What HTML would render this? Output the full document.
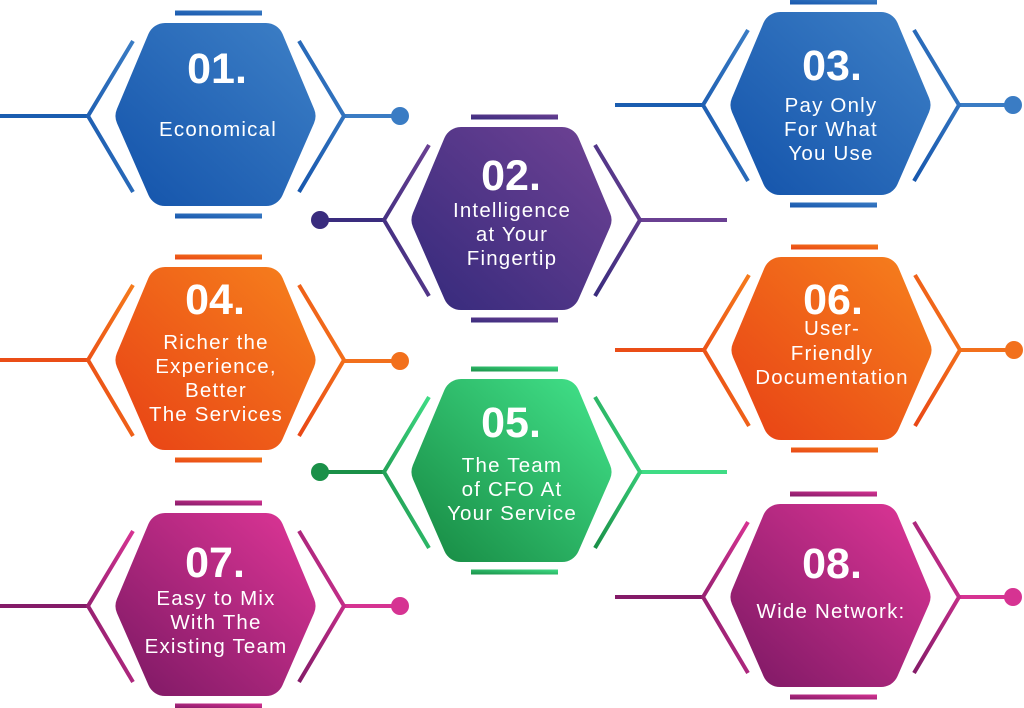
<!DOCTYPE html>
<html><head><meta charset="utf-8"><style>
html,body{margin:0;padding:0;background:#fff;width:1024px;height:708px;overflow:hidden}
text{font-family:"Liberation Sans","DejaVu Sans",sans-serif;fill:#fff;text-anchor:middle}
.n{font-size:43px;font-weight:bold}
.t{font-size:20.5px;letter-spacing:1.2px}
</style></head><body>
<svg width="1024" height="708" viewBox="0 0 1024 708" xmlns="http://www.w3.org/2000/svg">
<defs>
<linearGradient id="gb" x1="0" y1="1" x2="1" y2="0"><stop offset="0" stop-color="#1757ad"/><stop offset="1" stop-color="#3a7cc4"/></linearGradient>
<linearGradient id="gp" x1="0" y1="1" x2="1" y2="0"><stop offset="0" stop-color="#3a2c7e"/><stop offset="1" stop-color="#6a4092"/></linearGradient>
<linearGradient id="go" x1="0" y1="1" x2="1" y2="0"><stop offset="0" stop-color="#e94716"/><stop offset="1" stop-color="#f57b1c"/></linearGradient>
<linearGradient id="gg" x1="0" y1="1" x2="1" y2="0"><stop offset="0" stop-color="#1a9048"/><stop offset="1" stop-color="#3fdc85"/></linearGradient>
<linearGradient id="gm" x1="0" y1="1" x2="1" y2="0"><stop offset="0" stop-color="#841b68"/><stop offset="1" stop-color="#d63392"/></linearGradient>
<g id="core">
<rect x="-40" y="-105.5" width="87" height="5" stroke="none"/>
<rect x="-40" y="97.5" width="87" height="5" stroke="none"/>
<polyline points="-82,-75 -127,0 -82,76" fill="none" stroke-width="4"/>
<polyline points="84,-75 129,0 84,76" fill="none" stroke-width="4"/>
<polygon points="-81.5,0 -50,-75 51,-75 82.5,0 51,72 -50,72" stroke-width="36" stroke-linejoin="round"/>
</g>
</defs>

<!-- 01 -->
<g transform="translate(215,116)" fill="url(#gb)" stroke="url(#gb)">
<line x1="-215" y1="0" x2="-127" y2="0" stroke="#1a5db0" stroke-width="4"/>
<line x1="129" y1="0" x2="185" y2="0" stroke="#3a7cc4" stroke-width="4"/>
<circle cx="185" cy="0" r="9" fill="#3a7cc4" stroke="none"/>
<use href="#core"/>
</g>
<text class="n" x="217" y="83">01.</text>
<text class="t" x="218" y="136">Economical</text>

<!-- 02 -->
<g transform="translate(511,220)" fill="url(#gp)" stroke="url(#gp)">
<line x1="-191" y1="0" x2="-127" y2="0" stroke="#3a2c7e" stroke-width="4"/>
<circle cx="-191" cy="0" r="9" fill="#3a2c7e" stroke="none"/>
<line x1="129" y1="0" x2="216" y2="0" stroke="#6a4092" stroke-width="4"/>
<use href="#core"/>
</g>
<text class="n" x="511" y="190">02.</text>
<text class="t" x="512" y="217">Intelligence</text>
<text class="t" x="512" y="241">at Your</text>
<text class="t" x="512" y="265">Fingertip</text>

<!-- 03 -->
<g transform="translate(830,105)" fill="url(#gb)" stroke="url(#gb)">
<line x1="-215" y1="0" x2="-127" y2="0" stroke="#1a5db0" stroke-width="4"/>
<line x1="129" y1="0" x2="183" y2="0" stroke="#3a7cc4" stroke-width="4"/>
<circle cx="183" cy="0" r="9" fill="#3a7cc4" stroke="none"/>
<use href="#core"/>
</g>
<text class="n" x="832" y="80">03.</text>
<text class="t" x="831" y="112">Pay Only</text>
<text class="t" x="831" y="136">For What</text>
<text class="t" x="831" y="160">You Use</text>

<!-- 04 -->
<g transform="translate(215,360)" fill="url(#go)" stroke="url(#go)">
<line x1="-215" y1="0" x2="-127" y2="0" stroke="#ea4d17" stroke-width="4"/>
<line x1="129" y1="1" x2="185" y2="1" stroke="#f2701c" stroke-width="4"/>
<circle cx="185" cy="1" r="9" fill="#f2701c" stroke="none"/>
<use href="#core"/>
</g>
<text class="n" x="215" y="314">04.</text>
<text class="t" x="216" y="349">Richer the</text>
<text class="t" x="216" y="373">Experience,</text>
<text class="t" x="216" y="397">Better</text>
<text class="t" x="216" y="421">The Services</text>

<!-- 05 -->
<g transform="translate(511,472)" fill="url(#gg)" stroke="url(#gg)">
<line x1="-191" y1="0" x2="-127" y2="0" stroke="#1a9048" stroke-width="4"/>
<circle cx="-191" cy="0" r="9" fill="#1a9048" stroke="none"/>
<line x1="129" y1="0" x2="216" y2="0" stroke="#3fdc85" stroke-width="4"/>
<use href="#core"/>
</g>
<text class="n" x="511" y="437">05.</text>
<text class="t" x="512" y="472">The Team</text>
<text class="t" x="512" y="496">of CFO At</text>
<text class="t" x="512" y="520">Your Service</text>

<!-- 06 -->
<g transform="translate(831,350)" fill="url(#go)" stroke="url(#go)">
<line x1="-216" y1="0" x2="-127" y2="0" stroke="#ea4d17" stroke-width="4"/>
<line x1="129" y1="0" x2="183" y2="0" stroke="#f2701c" stroke-width="4"/>
<circle cx="183" cy="0" r="9" fill="#f2701c" stroke="none"/>
<use href="#core"/>
</g>
<text class="n" x="833" y="314">06.</text>
<text class="t" x="832" y="335">User-</text>
<text class="t" x="832" y="360">Friendly</text>
<text class="t" x="832" y="384">Documentation</text>

<!-- 07 -->
<g transform="translate(215,606)" fill="url(#gm)" stroke="url(#gm)">
<line x1="-215" y1="0" x2="-127" y2="0" stroke="#841b68" stroke-width="4"/>
<line x1="129" y1="0" x2="185" y2="0" stroke="#d63392" stroke-width="4"/>
<circle cx="185" cy="0" r="9" fill="#d63392" stroke="none"/>
<use href="#core"/>
</g>
<text class="n" x="215" y="577">07.</text>
<text class="t" x="216" y="605">Easy to Mix</text>
<text class="t" x="216" y="629">With The</text>
<text class="t" x="216" y="653">Existing Team</text>

<!-- 08 -->
<g transform="translate(830,597)" fill="url(#gm)" stroke="url(#gm)">
<line x1="-215" y1="0" x2="-127" y2="0" stroke="#841b68" stroke-width="4"/>
<line x1="129" y1="0" x2="183" y2="0" stroke="#d63392" stroke-width="4"/>
<circle cx="183" cy="0" r="9" fill="#d63392" stroke="none"/>
<use href="#core"/>
</g>
<text class="n" x="832" y="578">08.</text>
<text class="t" x="831" y="618">Wide Network:</text>
</svg>
</body></html>
